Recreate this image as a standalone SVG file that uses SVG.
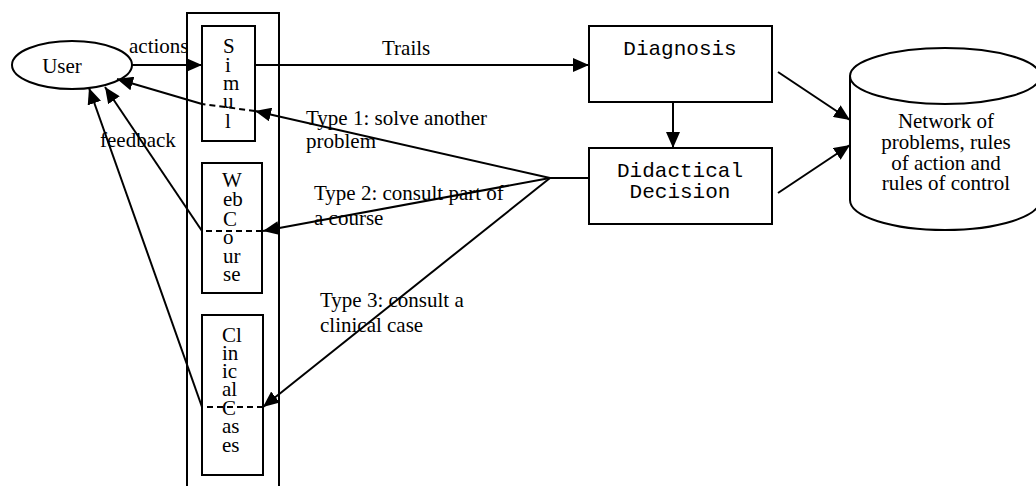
<svg xmlns="http://www.w3.org/2000/svg" width="1036" height="486" viewBox="0 0 1036 486">
<style>
.s{fill:none;stroke:#000;stroke-width:2}
.b{fill:#fff;stroke:#000;stroke-width:2}
.t{font-family:"Liberation Serif","Times New Roman",serif;font-size:21px;fill:#000}
.c{font-family:"Liberation Mono","Courier New",monospace;font-size:21px;fill:#000}
.d{fill:none;stroke:#000;stroke-width:2;stroke-dasharray:6,4}
</style>
<defs>
<marker id="ah" markerUnits="userSpaceOnUse" markerWidth="18" markerHeight="14" refX="16" refY="7" orient="auto">
<path d="M0,0 L16,7 L0,14 Z" fill="#000"/>
</marker>
</defs>
<rect width="1036" height="486" fill="#fff"/>
<g id="container"><rect x="187" y="13" width="92" height="480" class="s"/></g>
<g id="user"><ellipse cx="72" cy="65" rx="60" ry="24" class="b"/><text class="t" x="62" y="73" text-anchor="middle">User</text></g>
<g id="simul"><rect x="202" y="26" width="53" height="115" class="b"/>
<text class="t"><tspan x="223" y="53">S</tspan><tspan x="225" y="72">i</tspan><tspan x="223" y="90">m</tspan><tspan x="223" y="108">u</tspan><tspan x="225" y="128">l</tspan></text></g>
<g id="webcourse"><rect x="202" y="163" width="60" height="130" class="b"/>
<text class="t"><tspan x="222" y="187">W</tspan><tspan x="223" y="206">eb</tspan><tspan x="223" y="226">C</tspan><tspan x="223" y="244">o</tspan><tspan x="223" y="263">ur</tspan><tspan x="223" y="281">se</tspan></text></g>
<g id="clinical"><rect x="202" y="315" width="61" height="160" class="b"/>
<text class="t"><tspan x="222" y="342">Cl</tspan><tspan x="222" y="360">in</tspan><tspan x="222" y="378">ic</tspan><tspan x="222" y="396">al</tspan><tspan x="222" y="415">C</tspan><tspan x="222" y="433">as</tspan><tspan x="222" y="452">es</tspan></text></g>
<g id="diagnosis"><rect x="589" y="26" width="183" height="76" class="b"/><text class="c" x="680" y="55" text-anchor="middle">Diagnosis</text></g>
<g id="decision"><rect x="589" y="148" width="183" height="76" class="b"/><text class="c" x="680" y="177" text-anchor="middle">Didactical</text><text class="c" x="680" y="198" text-anchor="middle">Decision</text></g>
<g id="network">
<path d="M850,76 L850,200 A95,30 0 0 0 1040,200 L1040,76" class="b"/>
<ellipse cx="945" cy="76" rx="95" ry="28" class="b"/>
<text class="t" x="946" y="128" text-anchor="middle">Network of</text>
<text class="t" x="946" y="149" text-anchor="middle">problems, rules</text>
<text class="t" x="946" y="170" text-anchor="middle">of action and</text>
<text class="t" x="946" y="190" text-anchor="middle">rules of control</text>
</g>
<g id="connectors">
<line x1="132" y1="65" x2="202" y2="65" class="s" marker-end="url(#ah)"/>
<line x1="255" y1="65" x2="589" y2="65" class="s" marker-end="url(#ah)"/>
<line x1="673" y1="102" x2="673" y2="148" class="s" marker-end="url(#ah)"/>
<line x1="778" y1="72" x2="850" y2="120" class="s" marker-end="url(#ah)"/>
<line x1="778" y1="193" x2="850" y2="145" class="s" marker-end="url(#ah)"/>
<line x1="550" y1="178" x2="589" y2="178" class="s"/>
<line x1="550" y1="178" x2="255" y2="111" class="s" marker-end="url(#ah)"/>
<line x1="550" y1="178" x2="263" y2="231" class="s" marker-end="url(#ah)"/>
<line x1="550" y1="178" x2="263" y2="407" class="s" marker-end="url(#ah)"/>
<line x1="255" y1="111" x2="202" y2="104" class="d"/>
<line x1="262" y1="231" x2="202" y2="231" class="d"/>
<line x1="263" y1="407" x2="202" y2="407" class="d"/>
<line x1="202" y1="104" x2="117" y2="79" class="s" marker-end="url(#ah)"/>
<line x1="202" y1="231" x2="105" y2="87" class="s" marker-end="url(#ah)"/>
<line x1="202" y1="407" x2="89" y2="88" class="s" marker-end="url(#ah)"/>
<text class="t" x="129" y="53">actions</text>
<text class="t" x="382" y="55">Trails</text>
<text class="t" x="100" y="147">feedback</text>
<text class="t" x="306" y="125">Type 1: solve another</text>
<text class="t" x="306" y="148">problem</text>
<text class="t" x="314" y="200">Type 2: consult part of</text>
<text class="t" x="314" y="225">a course</text>
<text class="t" x="320" y="307">Type 3: consult a</text>
<text class="t" x="320" y="332">clinical case</text>
</g>
</svg>
